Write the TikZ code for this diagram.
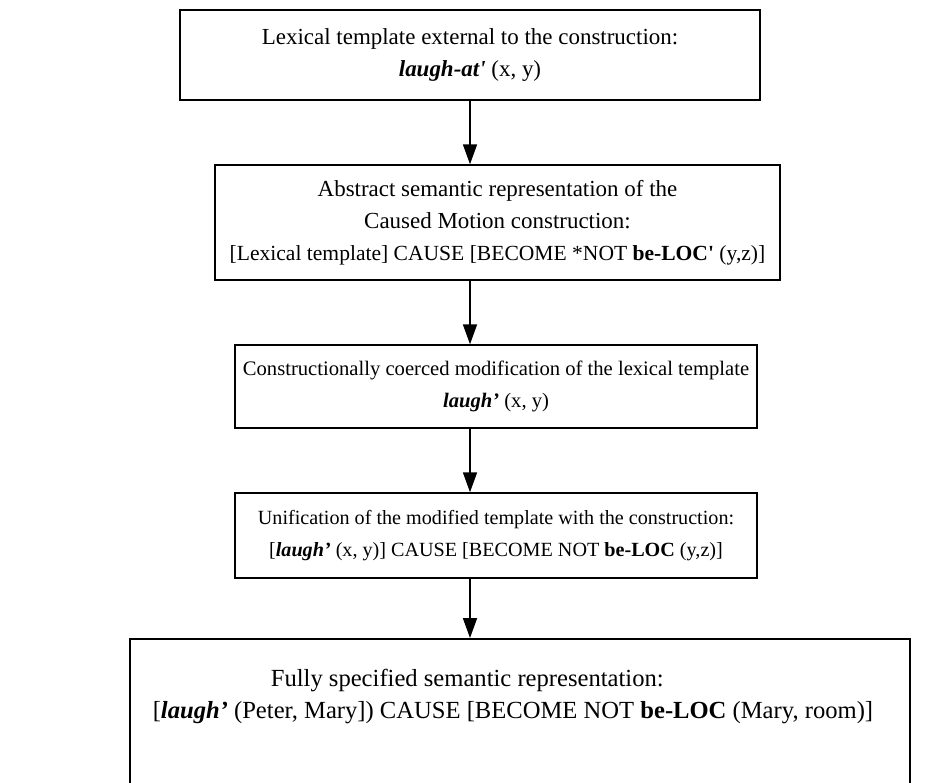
\documentclass[tikz,border=0pt]{standalone}
\usepackage{fontspec}
\setmainfont{Liberation Serif}
\usetikzlibrary{arrows.meta,positioning}

\tikzset{
  stage/.style={draw, line width=1.3pt, align=center, inner sep=0pt},
  size/.style={font=\fontsize{#1}{27.5}\selectfont},
  flow/.style={-{Triangle[width=12pt,length=17pt]}, line width=1.2pt}
}
\newcommand{\lexterm}[1]{\textbf{\textit{#1}}}

\begin{document}
\begin{tikzpicture}[x=0.03cm,y=-0.03cm]
    \path[use as bounding box, clip] (0,0) rectangle (937,782);

    % Stages of the derivation
    \node[stage, size=19.6, minimum width=17.4cm, minimum height=2.7cm] (lex) at (470,55)
        {Lexical template external to the construction:\\
         \lexterm{laugh-at\textquotesingle} (x, y)};
    \node[stage, size=18.4, minimum width=16.95cm, minimum height=3.45cm] (abs) at (497.5,222.5)
        {{\fontsize{19.6}{27.5}\selectfont Abstract semantic representation of the}\\
         {\fontsize{19.6}{27.5}\selectfont Caused Motion construction:}\\
         {[}Lexical template] CAUSE [BECOME *NOT \textbf{be-LOC\textquotesingle} (y,z)]};
    \node[stage, size=17.6, minimum width=15.66cm, minimum height=2.49cm] (coerce) at (496,386.5)
        {Constructionally coerced modification of the lexical template\\
         \lexterm{laugh’} (x, y)};
    \node[stage, size=17.2, minimum width=15.66cm, minimum height=2.55cm] (unify) at (496,535.5)
        {Unification of the modified template with the construction:\\
         {[}\lexterm{laugh’} (x, y)] CAUSE [BECOME NOT \textbf{be-LOC} (y,z)]};
    \node[stage, size=21, anchor=north, minimum width=23.4cm, inner ysep=26pt, text depth=3cm] (full) at (520,638)
        {Fully specified semantic representation:\hspace*{90pt}\\
         {[}\lexterm{laugh’} (Peter, Mary]) CAUSE [BECOME NOT \textbf{be-LOC} (Mary, room)]\hspace*{12pt}};

    % Arrows
    \coordinate (spine) at (470,0);
    \draw[flow] (lex.south -| spine) -- (abs.north -| spine);
    \draw[flow] (abs.south -| spine) -- (coerce.north -| spine);
    \draw[flow] (coerce.south -| spine) -- (unify.north -| spine);
    \draw[flow] (unify.south -| spine) -- (full.north -| spine);
\end{tikzpicture}
\end{document}
